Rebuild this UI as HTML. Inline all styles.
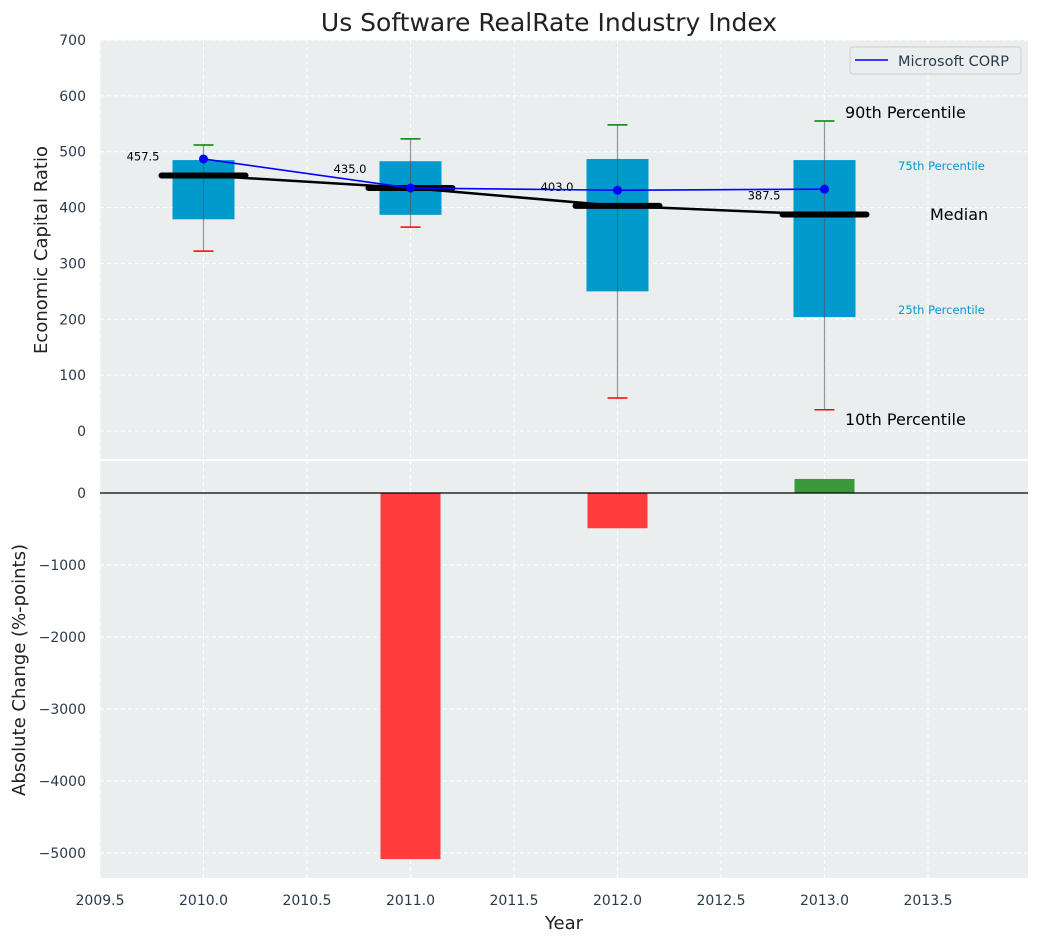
<!DOCTYPE html>
<html><head><meta charset="utf-8"><style>
body{margin:0;background:#fff;}
svg text{font-family:"DejaVu Sans","Liberation Sans",sans-serif;}
</style></head><body>
<svg id="c" width="1039" height="942" xmlns="http://www.w3.org/2000/svg"></svg>
<script>
const years=[2010,2011,2012,2013];
const p10=[322,365,59,38];
const p25=[379,387,250,204];
const medians=[457.5,435.0,403.0,387.5];
const p75=[485,483,487,485];
const p90=[512,523,548,555];
const msft=[487,435,431,433];
const changes=[0,-5085,-490,195];
const xTicks=[2009.5,2010.0,2010.5,2011.0,2011.5,2012.0,2012.5,2013.0,2013.5];
const yTopTicks=[0,100,200,300,400,500,600,700];
const yBotTicks=[0,-1000,-2000,-3000,-4000,-5000];

const NS="http://www.w3.org/2000/svg";
const svg=document.getElementById('c');
function el(t,a,p){const e=document.createElementNS(NS,t);for(const k in a)e.setAttribute(k,a[k]);(p||svg).appendChild(e);return e;}
const L=100,R=1028;
const x=v=>L+(v-2009.5)*207;
const T1=40,B1=459,yt=v=>431-(v)*391/700;
const T2=461,B2=878,yb=v=>493-v*0.072;

let e=el('rect',{x:L,y:T1,width:R-L,height:B1-T1,fill:'#eaeeef'});

e=el('rect',{x:L,y:T2,width:R-L,height:B2-T2,fill:'#eaeeef'});


xTicks.forEach(t=>{
  el('line',{x1:x(t),x2:x(t),y1:T1,y2:B1,stroke:'#fff','stroke-dasharray':'4,3','stroke-width':1});
  el('line',{x1:x(t),x2:x(t),y1:T2,y2:B2,stroke:'#fff','stroke-dasharray':'4,3','stroke-width':1});
  e=el('text',{x:x(t),y:905,'text-anchor':'middle','font-size':14,fill:'#2b3a4a'});e.textContent=t.toFixed(1);
  
});
yTopTicks.forEach(t=>{
  el('line',{x1:L,x2:R,y1:yt(t),y2:yt(t),stroke:'#fff','stroke-dasharray':'4,3'});
  e=el('text',{x:86,y:yt(t)+5,'text-anchor':'end','font-size':14,fill:'#2b3a4a'});e.textContent=t;
  
});
yBotTicks.forEach(t=>{
  el('line',{x1:L,x2:R,y1:yb(t),y2:yb(t),stroke:'#fff','stroke-dasharray':'4,3'});
  e=el('text',{x:86,y:yb(t)+5,'text-anchor':'end','font-size':14,fill:'#2b3a4a'});e.textContent=(t<0?'\u2212'+(-t):t);
  
});

years.forEach((yr,i)=>{
  const cx=x(yr);
  e=el('rect',{x:cx-31,y:yt(p75[i]),width:62,height:yt(p25[i])-yt(p75[i]),fill:'#009acd'});
  
  el('line',{x1:cx,x2:cx,y1:yt(p90[i]),y2:yt(p10[i]),stroke:'#555','stroke-opacity':0.6,'stroke-width':1.2});
  e=el('line',{x1:cx-10,x2:cx+10,y1:yt(p90[i]),y2:yt(p90[i]),stroke:'green','stroke-width':1.5});
  
  e=el('line',{x1:cx-10,x2:cx+10,y1:yt(p10[i]),y2:yt(p10[i]),stroke:'red','stroke-width':1.5});
  
});
e=el('polyline',{points:years.map((yr,i)=>x(yr)+','+yt(medians[i])).join(' '),fill:'none',stroke:'#000','stroke-width':2.5});

years.forEach((yr,i)=>{
  const cx=x(yr);
  e=el('line',{x1:cx-42,x2:cx+42,y1:yt(medians[i]),y2:yt(medians[i]),stroke:'#000','stroke-width':6,'stroke-linecap':'round'});
  
  e=el('text',{x:cx-44,y:yt(medians[i])-15,'text-anchor':'end','font-size':11.5,fill:'#000'});e.textContent=medians[i].toFixed(1);
  
});
e=el('polyline',{points:years.map((yr,i)=>x(yr)+','+yt(msft[i])).join(' '),fill:'none',stroke:'#0000ff','stroke-width':1.6});

years.forEach((yr,i)=>{
  e=el('circle',{cx:x(yr),cy:yt(msft[i]),r:4.5,fill:'#0000ff'});
  
});
[['90th Percentile',845,118,16,'#000'],['75th Percentile',898,170,11.5,'#009acd'],['Median',930,220,16,'#000'],['25th Percentile',898,314,11.5,'#009acd'],['10th Percentile',845,425,16,'#000']].forEach(a=>{
  e=el('text',{x:a[1],y:a[2],'font-size':a[3],fill:a[4]});e.textContent=a[0];
  
});
const lg=el('g',{});
el('rect',{x:850,y:47,width:171,height:27,rx:3,fill:'#eaeeef',stroke:'#ccc'},lg);
el('line',{x1:855,x2:888,y1:60,y2:60,stroke:'#0000ff','stroke-width':1.6},lg);
e=el('text',{x:898,y:66,'font-size':14.5,fill:'#2b3a4a'},lg);e.textContent='Microsoft CORP';

years.forEach((yr,i)=>{
  const v=changes[i];if(v===0)return;
  const y0=yb(Math.max(0,v)),y1=yb(Math.min(0,v));
  e=el('rect',{x:x(yr)-30,y:y0,width:60,height:y1-y0,fill:v<0?'#ff3c3c':'#3a9a3a'});
  
});
e=el('line',{x1:L,x2:R,y1:yb(0),y2:yb(0),stroke:'#000','stroke-width':1.2});


e=el('text',{x:549,y:31,'text-anchor':'middle','font-size':25,fill:'#222'});e.textContent='Us Software RealRate Industry Index';

e=el('text',{x:564,y:929,'text-anchor':'middle','font-size':18,fill:'#222'});e.textContent='Year';

e=el('text',{x:0,y:0,'text-anchor':'middle','font-size':18,fill:'#222',transform:'translate(47,250) rotate(-90)'});e.textContent='Economic Capital Ratio';

e=el('text',{x:0,y:0,'text-anchor':'middle','font-size':18,fill:'#222',transform:'translate(25,670) rotate(-90)'});e.textContent='Absolute Change (%-points)';


</script>
</body></html>
